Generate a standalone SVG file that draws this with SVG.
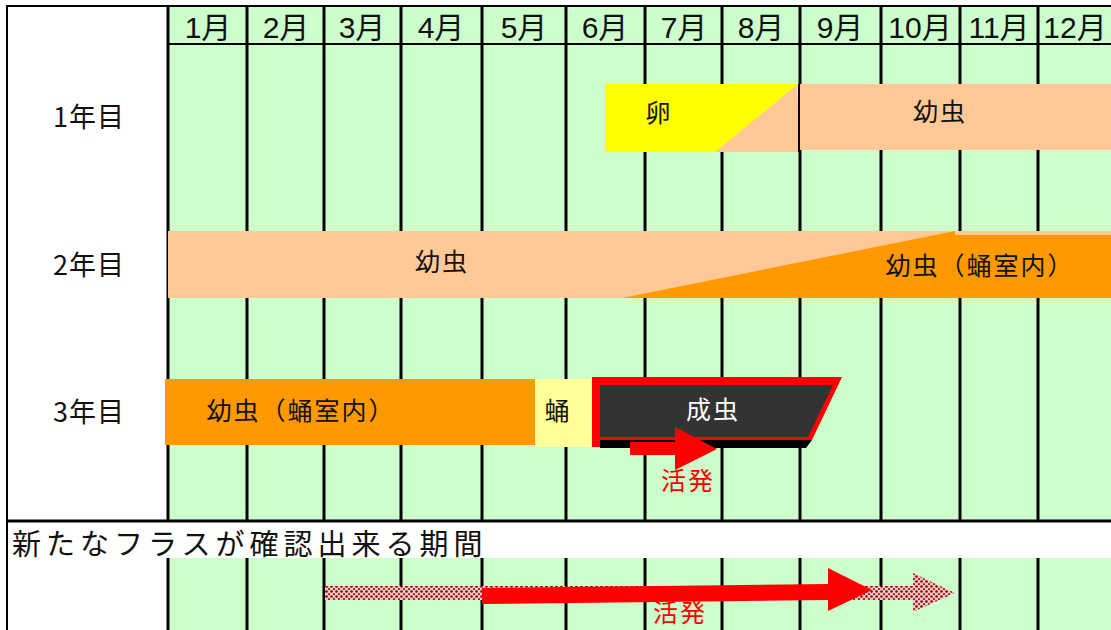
<svg xmlns="http://www.w3.org/2000/svg" width="1111" height="630" viewBox="0 0 1111 630">
<style>
.t{font-family:"Liberation Sans","Noto Sans CJK JP",sans-serif;fill:#111;}
.j{font-family:"Noto Sans CJK JP","Liberation Sans",sans-serif;fill:#111;}
.m{font-size:30px;text-anchor:middle;}
.v{stroke:#000;stroke-width:3;}
.lbl{font-size:27px;text-anchor:middle;letter-spacing:1px;}
.bar{font-size:25px;text-anchor:middle;letter-spacing:2px;}
</style>
<defs>
<pattern id="dots" width="5" height="5" patternUnits="userSpaceOnUse">
<rect width="5" height="5" fill="#f0c8c8"/>
<circle cx="1.5" cy="1.5" r="1.3" fill="#8b0000"/>
<circle cx="4" cy="4" r="1.1" fill="#b01010"/>
</pattern>
</defs>
<rect width="1111" height="630" fill="#fff"/>
<g id="grid">
<rect x="168" y="6" width="943" height="514" fill="#ccffcc"/>
<rect x="168" y="558" width="943" height="72" fill="#ccffcc"/>
<line x1="6" y1="6" x2="1111" y2="6" stroke="#000" stroke-width="2"/>
<line x1="7" y1="6" x2="7" y2="630" stroke="#000" stroke-width="2"/>
<line x1="168" y1="44" x2="1111" y2="44" stroke="#000" stroke-width="2"/>
<line x1="7" y1="521" x2="1111" y2="521" stroke="#000" stroke-width="3"/>
<g class="v">
<line x1="168" y1="6" x2="168" y2="520"/><line x1="247" y1="6" x2="247" y2="520"/><line x1="324" y1="6" x2="324" y2="520"/><line x1="401" y1="6" x2="401" y2="520"/><line x1="482" y1="6" x2="482" y2="520"/><line x1="566" y1="6" x2="566" y2="520"/><line x1="645" y1="6" x2="645" y2="520"/><line x1="722" y1="6" x2="722" y2="520"/><line x1="800" y1="6" x2="800" y2="520"/><line x1="881" y1="6" x2="881" y2="520"/><line x1="960" y1="6" x2="960" y2="520"/><line x1="1038" y1="6" x2="1038" y2="520"/>
<line x1="168" y1="558" x2="168" y2="630"/><line x1="247" y1="558" x2="247" y2="630"/><line x1="324" y1="558" x2="324" y2="630"/><line x1="401" y1="558" x2="401" y2="630"/><line x1="482" y1="558" x2="482" y2="630"/><line x1="566" y1="558" x2="566" y2="630"/><line x1="645" y1="558" x2="645" y2="630"/><line x1="722" y1="558" x2="722" y2="630"/><line x1="800" y1="558" x2="800" y2="630"/><line x1="881" y1="558" x2="881" y2="630"/><line x1="960" y1="558" x2="960" y2="630"/><line x1="1038" y1="558" x2="1038" y2="630"/>
</g>
</g>
<g id="months" class="t m">
<text x="208" y="38">1月</text><text x="286" y="38">2月</text><text x="362" y="38">3月</text><text x="441" y="38">4月</text><text x="524" y="38">5月</text><text x="605" y="38">6月</text><text x="684" y="38">7月</text><text x="761" y="38">8月</text><text x="840" y="38">9月</text><text x="920" y="38">10月</text><text x="999" y="38">11月</text><text x="1075" y="38">12月</text>
</g>
<g id="rowlabels" class="j lbl">
<text x="89" y="127">1年目</text>
<text x="89" y="275">2年目</text>
<text x="89" y="422">3年目</text>
</g>
<g id="year1">
<rect x="605" y="84" width="194" height="68" fill="#ffff00"/>
<polygon points="715,152 797,85 799,152" fill="#ffc896"/>
<rect x="799" y="84" width="312" height="66" fill="#ffc896"/>
<line x1="799" y1="84" x2="799" y2="152" stroke="#000" stroke-width="2"/>
<text class="j bar" x="659" y="122">卵</text>
<text class="j bar" x="940" y="121">幼虫</text>
</g>
<g id="year2">
<rect x="168" y="231" width="943" height="67" fill="#ffc896"/>
<polygon points="622,298 955,231 955,298" fill="#ff9900"/>
<rect x="955" y="235" width="156" height="63" fill="#ff9900"/>
<text class="j bar" x="442" y="271">幼虫</text>
<text class="j bar" x="980" y="275" letter-spacing="3">幼虫（蛹室内）</text>
</g>
<g id="year3">
<rect x="165" y="379" width="370" height="66" fill="#ff9900"/>
<rect x="535" y="379" width="65" height="68" fill="#ffff99"/>
<polygon points="600,440 812,440 806,448 600,448" fill="#000"/>
<polygon points="592,377 842,377 812,440 600,440 600,447 592,447" fill="#ff0000"/>
<polygon points="600,385 833,385 808,437 600,437" fill="#333333"/>
<text class="j bar" x="301" y="420">幼虫（蛹室内）</text>
<text class="j bar" x="558" y="420">蛹</text>
<text class="j bar" x="713" y="419" style="fill:#fff">成虫</text>
<polygon points="630,442 675,442 675,427 717,449 675,470 675,455 630,455" fill="#ff0000"/>
<text class="j bar" x="688" y="490" style="fill:#ff0000">活発</text>
</g>
<g id="bottom">
<text class="j" x="12" y="555" font-size="29" letter-spacing="5">新たなフラスが確認出来る期間</text>
<polygon points="325,586 913,586 913,573 955,593 913,612 913,600 325,600" fill="url(#dots)"/>
<polygon points="482,588 828,584 828,568 872,590 828,611 828,600 482,604" fill="#ff0000"/>
<text class="j bar" x="680" y="622" style="fill:#ff0000">活発</text>
</g>
</svg>
